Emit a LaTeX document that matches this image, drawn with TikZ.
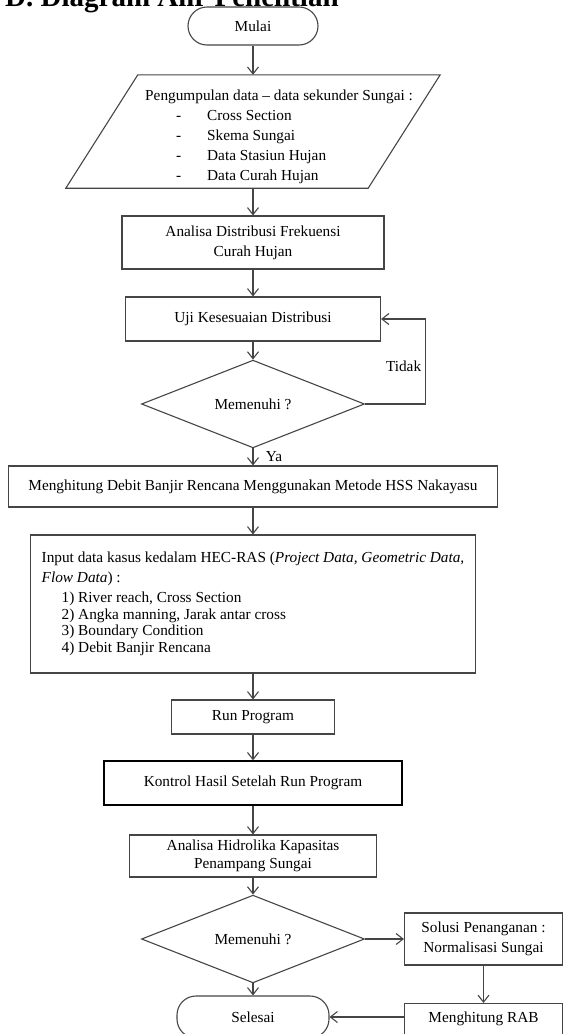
\documentclass[tikz,border=0pt]{standalone}
\usepackage{fontspec}
\setmainfont{Liberation Serif}
\usetikzlibrary{arrows.meta,shapes.geometric}
\definecolor{garis}{HTML}{454545}
\newcommand{\butir}[1]{\makebox[62pt][l]{\hspace*{31pt}-}#1}

\begin{document}
\begin{tikzpicture}[x=1pt, y=-1pt,
        font=\fontsize{15.3}{19.8}\selectfont,
        kotak/.style={draw=garis, line width=1.1pt, inner sep=0pt, align=center},
        ujung/.style={kotak, rounded corners=19pt},
        cek/.style={kotak, diamond},
        panah/.style={draw=garis, line width=1.1pt, -{Straight Barb[length=7pt,width=11pt]}}]
    \useasboundingbox (0,0) rectangle (563,1034);

    \node[anchor=base west, inner sep=0pt, font=\fontsize{29}{30}\selectfont\bfseries] (judul) at (5,6) {D. Diagram Alir Penelitian};

    \node[ujung, minimum width=130, minimum height=38] (mulai) at (253,26) {Mulai};

    \node[minimum width=302, minimum height=113, inner sep=0pt] (data) at (253,131.5) {};
    \draw[garis, line width=1.1pt] ([xshift=36pt]data.north west) -- ([xshift=36pt]data.north east)
        -- ([xshift=-36pt]data.south east) -- ([xshift=-36pt]data.south west) -- cycle;
    \node[anchor=north west, align=left, inner sep=0pt] (datatxt) at (145,90) {Pengumpulan data -- data sekunder Sungai :\\
        \butir{Cross Section}\\ \butir{Skema Sungai}\\ \butir{Data Stasiun Hujan}\\ \butir{Data Curah Hujan}};

    \node[kotak, minimum width=262, minimum height=53] (distribusi) at (253,242.5) {Analisa Distribusi Frekuensi\\Curah Hujan};
    \node[kotak, minimum width=255, minimum height=44] (uji) at (253,319) {Uji Kesesuaian Distribusi};
    \node[cek, minimum width=223, minimum height=66] (cek1) at (253,404) {Memenuhi ?};
    \node[kotak, minimum width=489, minimum height=41] (debit) at (253,486.5) {Menghitung Debit Banjir Rencana Menggunakan Metode HSS Nakayasu};
    \node[kotak, align=left, minimum width=445, minimum height=138] (hecras) at (253,604) {Input data kasus kedalam HEC-RAS (\textit{Project Data, Geometric Data,}\\
        \textit{Flow Data}) :\\
        \hspace*{20pt}1) River reach, Cross Section\\[-3.2pt]
        \hspace*{20pt}2) Angka manning, Jarak antar cross\\[-3.2pt]
        \hspace*{20pt}3) Boundary Condition\\[-3.2pt]
        \hspace*{20pt}4) Debit Banjir Rencana};
    \node[kotak, minimum width=163, minimum height=34] (run) at (253,717) {Run Program};
    \node[kotak, draw=black, line width=1.3pt, minimum width=298, minimum height=44] (kontrol) at (253,783) {Kontrol Hasil Setelah Run Program};
    \node[kotak, minimum width=247, minimum height=42, font=\fontsize{15.3}{18}\selectfont] (hidrolika) at (253,856) {Analisa Hidrolika Kapasitas\\Penampang Sungai};
    \node[cek, minimum width=223, minimum height=64] (cek2) at (253,939) {Memenuhi ?};
    \node[ujung, minimum width=152, minimum height=42] (selesai) at (253,1017) {Selesai};
    \node[kotak, minimum width=158, minimum height=52] (solusi) at (483.5,939) {Solusi Penanganan :\\Normalisasi Sungai};
    \node[kotak, anchor=north, minimum width=158, text height=19pt, text depth=21pt] (rab) at (483.5,1003) {Menghitung RAB};

    \foreach \a/\b in {mulai/data, data/distribusi, distribusi/uji, uji/cek1, debit/hecras, hecras/run,
            run/kontrol, kontrol/hidrolika, hidrolika/cek2, cek2/selesai, cek2/solusi, solusi/rab}
        \draw[panah] (\a) -- (\b);

    \draw[panah] (cek1) -- node[right, xshift=9pt] {Ya} (debit);
    \draw[panah] (cek1.east) -- ++(60,0) |- node[pos=0.22, left] {Tidak} (uji.east);
    \draw[panah] (rab.west |- selesai) -- (selesai);
\end{tikzpicture}
\end{document}
